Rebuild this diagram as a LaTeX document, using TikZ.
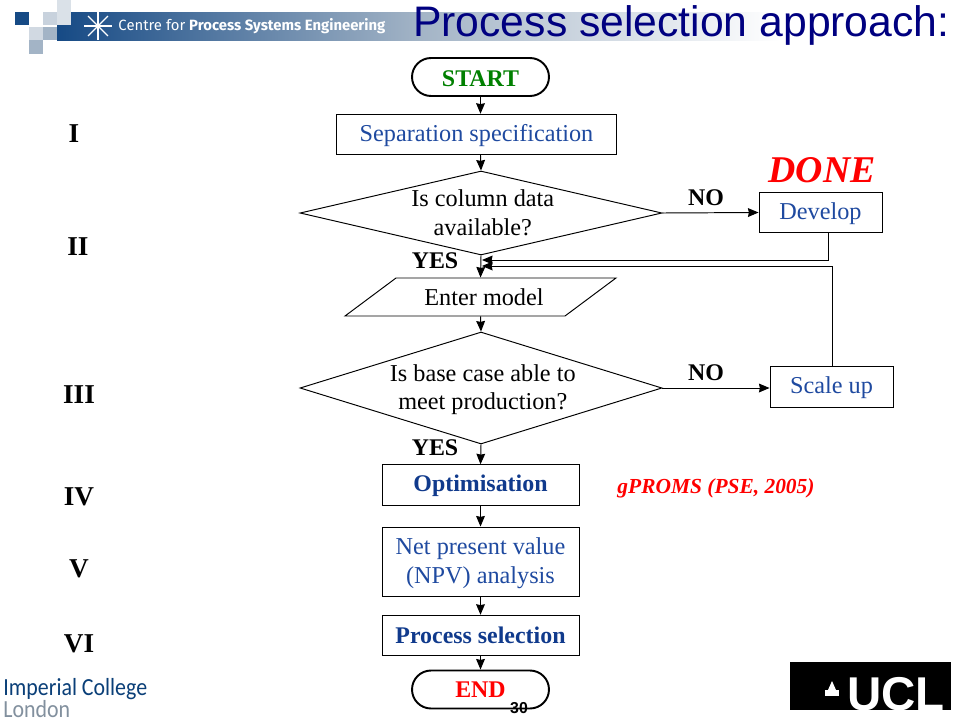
\documentclass[tikz,border=0pt]{standalone}
\usepackage{xcolor}
\usepackage{fontspec}
\setmainfont{Liberation Serif}
\newfontfamily\arialfont{Liberation Sans}
\newfontfamily\bannerfont{Fira Sans}
\newfontfamily\collegefont{Carlito}
\usetikzlibrary{arrows.meta, shapes.geometric}
\definecolor{stepblue}{HTML}{1F4AA0}
\definecolor{stepdark}{HTML}{103A8C}
\definecolor{banner}{HTML}{164A85}
\definecolor{bannermid}{HTML}{A3B4C6}
\definecolor{imperial}{HTML}{0A3F78}

\begin{document}
\begin{tikzpicture}[
  x=0.02cm, y=-0.02cm,
  line width=0.55pt,
  >={Stealth[length=6pt, width=5pt, inset=0.5pt]},
  flowtext/.style={font=\fontsize{13.8}{16.4}\selectfont, align=center},
  boldtext/.style={font=\fontsize{13.6}{16}\bfseries\selectfont},
  lowtext/.style={text height=10.8pt, text depth=3pt},
  terminal/.style={draw, line width=1.1pt, rounded corners=0.38cm, minimum width=2.74cm, minimum height=0.76cm, boldtext, inner sep=0pt},
  procbox/.style={draw, minimum height=0.81cm, flowtext, text=stepblue, inner sep=0pt},
  decision/.style={draw, diamond, minimum width=7.24cm, inner sep=0pt, aspect=3},
  inputbox/.style={draw, trapezium, trapezium left angle=18.5, trapezium right angle=161.5, trapezium stretches body, minimum width=5.42cm, minimum height=0.76cm, inner sep=0pt, flowtext},
  stage/.style={font=\fontsize{15.5}{18}\bfseries\selectfont},
  college/.style={anchor=west, inner sep=0pt, text height=8pt, text depth=2pt, font=\collegefont\fontsize{14}{16}\selectfont},
  tile/.style={draw=none, fill=#1}
]
\useasboundingbox (0,0) rectangle (960,720);

% header
\fill[white] (0,0) rectangle (960,720);
\shade[left color=banner, right color=bannermid] (57,12) rectangle (420,40);
\shade[left color=bannermid, right color=white] (420,12) rectangle (780,40);
\fill[tile=banner] (15,12) rectangle (29,25);
\fill[tile=bannermid!60] (43,12) rectangle (57,25);
\fill[tile=bannermid!40] (57,0) rectangle (71,25);
\fill[tile=bannermid!50] (29,27) rectangle (43,40);
\fill[tile=bannermid] (43,27) rectangle (57,40);
\fill[tile=bannermid] (29,40) rectangle (43,54);
\foreach \ang in {0,45,...,315}
  \draw[white, line width=0.8pt] (98,26) -- ++(\ang:14);
\node[text=white, anchor=west, inner sep=0pt, font=\bannerfont\fontsize{8.46}{10}\selectfont] (bannertext) at (118,26) {Centre for \textbf{Process Systems Engineering}};
\node[text=blue!50!black, anchor=base east, inner sep=0pt, font=\arialfont\fontsize{24.3}{28}\selectfont] (title) at (950,36) {Process selection approach:};

% flow chart
\node[terminal, text height=10.8pt, text depth=0pt, text=green!50!black] (start) at (480.5,77) {START};
\node[procbox, lowtext, minimum width=5.62cm] (sepspec) at (476.5,134.5) {Separation specification};
\node[decision, minimum height=1.68cm, label={[flowtext, xshift=1pt]center:Is column data\\available?}] (coldata) at (481,213) {};
\node[procbox, lowtext, minimum width=2.46cm] (develop) at (820.5,212.5) {Develop};
\node[inputbox] (entermodel) at (480.5,297) {\hspace{4pt}Enter model};
\node[decision, minimum height=2.24cm, label={[flowtext, xshift=1pt, yshift=-1pt]center:Is base case able to\\meet production?}] (basecase) at (481,388) {};
\node[procbox, lowtext, minimum width=2.46cm] (scaleup) at (831.5,387) {Scale up};
\node[procbox, lowtext, minimum width=3.94cm, boldtext, text=stepdark] (optim) at (480.5,485) {Optimisation};
\node[procbox, text depth=1pt, minimum width=3.94cm, minimum height=1.38cm] (npv) at (480.5,561.5) {Net present value\\(NPV) analysis};
\node[procbox, minimum width=3.94cm, boldtext, text=stepdark] (procsel) at (480.5,635.5) {Process selection};
\node[terminal, text=red] (finish) at (480.5,689.5) {END};

\coordinate (devout) at (828,233);
\coordinate (scaleout) at (832,367);
\coordinate (joinA) at (482,260);
\coordinate (joinB) at (482,266);

\draw[->] (start.south) -- (start.south |- sepspec.north);
\draw[->] (start.south |- sepspec.south) -- (coldata.north);
\draw[->] (coldata.south) -- (entermodel.north);
\draw[->] (entermodel.south) -- (basecase.north);
\draw[->] (basecase.south) -- (optim.north);
\draw[->] (optim.south) -- (npv.north);
\draw[->] (npv.south) -- (procsel.north);
\draw[->] (procsel.south) -- (finish.north);
\draw[->] (coldata.east) -- (develop.west);
\draw[->] (basecase.east) -- (basecase.east -| scaleup.west);
\draw[->] (devout) |- (joinA);
\draw[->] (scaleout) |- (joinB);

% labels
\node[boldtext] (yesa) at (435,261) {YES};
\node[boldtext] (yesb) at (435,448) {YES};
\node[boldtext] (noa) at (706,198) {NO};
\node[boldtext] (nob) at (706,373) {NO};
\node[text=red, font=\fontsize{21.5}{24}\bfseries\itshape\selectfont] (done) at (822,170) {DONE};
\node[text=red, font=\fontsize{12.2}{14}\bfseries\itshape\selectfont] (gproms) at (716,488.5) {gPROMS (PSE, 2005)};
\node[stage] (si) at (74,133.5) {I};
\node[stage] (sii) at (78,246.5) {II};
\node[stage] (siii) at (79,394.5) {III};
\node[stage] (siv) at (79,496.5) {IV};
\node[stage] (sv) at (79,568.5) {V};
\node[stage] (svi) at (79,643.5) {VI};

% footer
\node[college, text=imperial] (imperial) at (3,690) {\scalebox{0.89}[1]{Imperial College}};
\node[college, text=bannermid!80!black] (london) at (3,712) {\scalebox{0.89}[1]{London}};
\node[inner sep=0pt, font=\arialfont\fontsize{9}{11}\bfseries\selectfont] (pageno) at (519,708) {30};
\fill[black] (790,662) rectangle (951,710);
\begin{scope}
  \clip (790,662) rectangle (951,710);
  \node[text=white, anchor=base, inner sep=0pt, font=\arialfont\fontsize{27}{30}\bfseries\selectfont] (ucl) at (896,710) {UCL};
  \fill[white] (825,690) rectangle (839,696);
  \fill[white] (832,681) -- (836,690) -- (828,690) -- cycle;
\end{scope}
\end{tikzpicture}
\end{document}
